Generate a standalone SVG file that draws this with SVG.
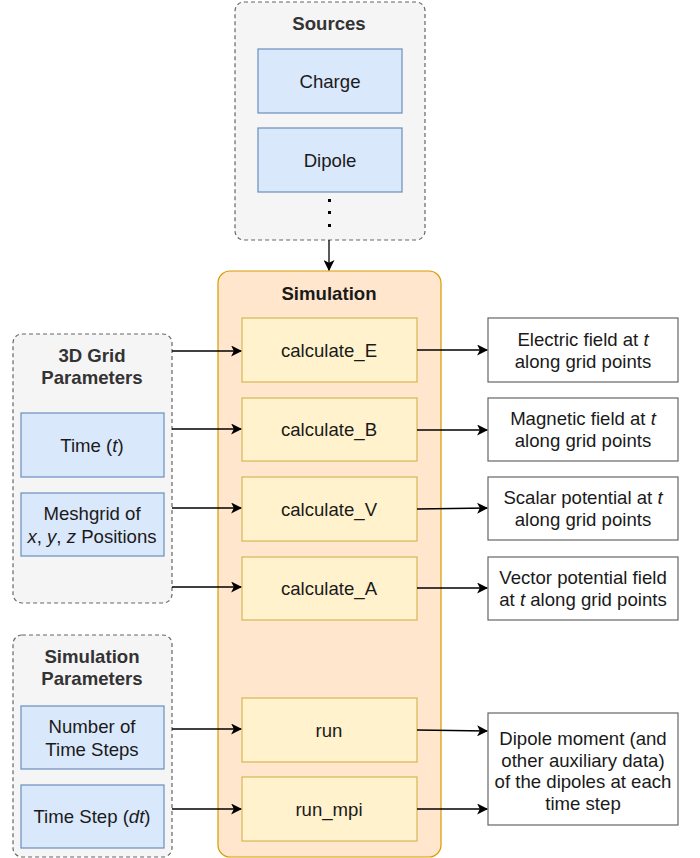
<svg xmlns="http://www.w3.org/2000/svg" width="700" height="858" viewBox="0 0 700 858">
<style>
text{font-family:"Liberation Sans",Arial,sans-serif;font-size:18.6px;fill:#1a1a1a;text-anchor:middle}
.title{font-weight:bold;fill:#333}
.stitle{font-weight:bold;fill:#1a1a1a}
.group{fill:#f5f5f5;stroke:#666;stroke-width:1.2;stroke-dasharray:4 3}
.blue{fill:#dae8fc;stroke:#6c8ebf;stroke-width:1.2}
.yel{fill:#fff2cc;stroke:#d6b656;stroke-width:1.2}
.out{fill:#fff;stroke:#666;stroke-width:1.2}
.sim{fill:#ffe6cc;stroke:#d79b00;stroke-width:1.2}
.edge{stroke:#000;stroke-width:1.3;fill:none;marker-end:url(#arr)}
</style>
<defs>
<marker id="arr" viewBox="0 0 10 10" refX="9" refY="5" markerWidth="11" markerHeight="11" markerUnits="userSpaceOnUse" orient="auto">
<path d="M0,0 L10,5 L0,10 L2.5,5 Z" fill="#000"/>
</marker>
</defs>
<g id="sources">
<rect class="group" x="235" y="2" width="190" height="238" rx="9"/>
<text class="title" x="329" y="30">Sources</text>
</g>
<g id="charge">
<rect class="blue" x="258" y="49" width="144" height="64"/>
<text x="330" y="88">Charge</text>
</g>
<g id="dipole">
<rect class="blue" x="258" y="128" width="144" height="64"/>
<text x="330" y="167">Dipole</text>
</g>
<g id="dots" fill="#000">
<rect x="328" y="199" width="3" height="3"/>
<rect x="328" y="211" width="3" height="3"/>
<rect x="328" y="224" width="3" height="3"/>
</g>
<g id="simulation">
<rect class="sim" x="218" y="271" width="223" height="586" rx="12"/>
<text class="stitle" x="329" y="300">Simulation</text>
</g>
<g id="calc_E">
<rect class="yel" x="242" y="318" width="175" height="64"/>
<text x="329" y="357">calculate_E</text>
</g>
<g id="calc_B">
<rect class="yel" x="242" y="398" width="175" height="63"/>
<text x="329" y="436">calculate_B</text>
</g>
<g id="calc_V">
<rect class="yel" x="242" y="477" width="175" height="64"/>
<text x="329" y="516">calculate_V</text>
</g>
<g id="calc_A">
<rect class="yel" x="242" y="557" width="175" height="63"/>
<text x="329" y="595">calculate_A</text>
</g>
<g id="run">
<rect class="yel" x="242" y="698" width="175" height="64"/>
<text x="329" y="737">run</text>
</g>
<g id="run_mpi">
<rect class="yel" x="242" y="777" width="175" height="64"/>
<text x="329" y="816">run_mpi</text>
</g>
<g id="grid">
<rect class="group" x="13" y="334" width="159" height="269" rx="9"/>
<text class="title" x="92" y="362">3D Grid</text>
<text class="title" x="92" y="384">Parameters</text>
</g>
<g id="time">
<rect class="blue" x="21" y="413" width="143" height="64"/>
<text x="92" y="452">Time (<tspan font-style="italic">t</tspan>)</text>
</g>
<g id="meshgrid">
<rect class="blue" x="21" y="493" width="143" height="63"/>
<text x="92" y="520">Meshgrid of</text>
<text x="92" y="543"><tspan font-style="italic">x</tspan>, <tspan font-style="italic">y</tspan>, <tspan font-style="italic">z</tspan> Positions</text>
</g>
<g id="simparams">
<rect class="group" x="13" y="635" width="159" height="222" rx="9"/>
<text class="title" x="92" y="663">Simulation</text>
<text class="title" x="92" y="685">Parameters</text>
</g>
<g id="nsteps">
<rect class="blue" x="21" y="706" width="143" height="63"/>
<text x="92" y="733">Number of</text>
<text x="92" y="756">Time Steps</text>
</g>
<g id="dt">
<rect class="blue" x="21" y="785" width="143" height="63"/>
<text x="92" y="823">Time Step (<tspan font-style="italic">dt</tspan>)</text>
</g>
<g id="out_E">
<rect class="out" x="488" y="318" width="190" height="64"/>
<text x="583" y="346">Electric field at <tspan font-style="italic">t</tspan></text>
<text x="583" y="368">along grid points</text>
</g>
<g id="out_B">
<rect class="out" x="488" y="398" width="190" height="63"/>
<text x="583" y="425">Magnetic field at <tspan font-style="italic">t</tspan></text>
<text x="583" y="447">along grid points</text>
</g>
<g id="out_V">
<rect class="out" x="488" y="477" width="190" height="63"/>
<text x="583" y="504">Scalar potential at <tspan font-style="italic">t</tspan></text>
<text x="583" y="526">along grid points</text>
</g>
<g id="out_A">
<rect class="out" x="488" y="557" width="190" height="63"/>
<text x="583" y="584">Vector potential field</text>
<text x="583" y="606">at <tspan font-style="italic">t</tspan> along grid points</text>
</g>
<g id="out_dipole">
<rect class="out" x="488" y="713" width="190" height="112"/>
<text x="583" y="745">Dipole moment (and</text>
<text x="583" y="767">other auxiliary data)</text>
<text x="583" y="788">of the dipoles at each</text>
<text x="583" y="810">time step</text>
</g>
<g id="connectors">
<path class="edge" d="M329,240 L329,270"/>
<path class="edge" d="M172,351 L241,351"/>
<path class="edge" d="M172,429 L241,429"/>
<path class="edge" d="M172,508 L241,508"/>
<path class="edge" d="M172,587 L241,587"/>
<path class="edge" d="M172,729 L241,729"/>
<path class="edge" d="M172,809 L241,809"/>
<path class="edge" d="M417,350 L487,350"/>
<path class="edge" d="M417,430 L487,430"/>
<path class="edge" d="M417,509 L487,508"/>
<path class="edge" d="M417,588 L487,588"/>
<path class="edge" d="M417,730 L487,731"/>
<path class="edge" d="M417,809 L487,809"/>
</g>
</svg>
